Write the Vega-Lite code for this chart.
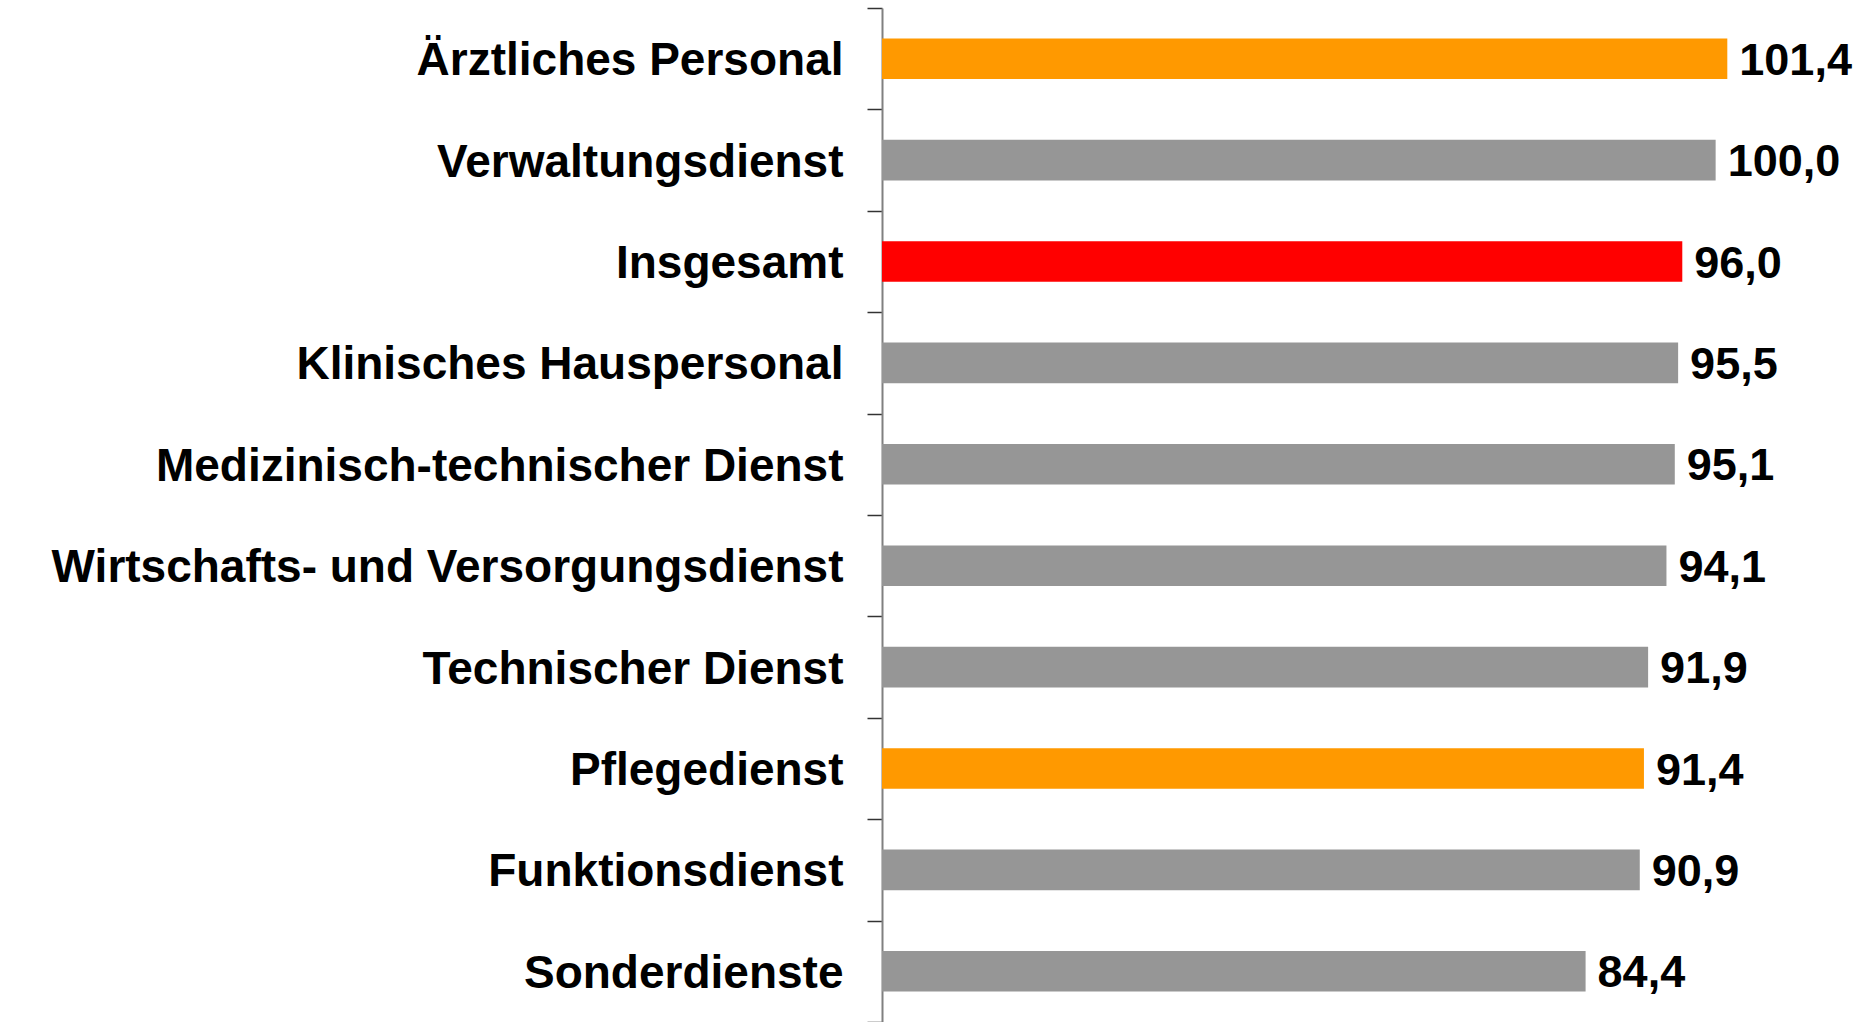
{
  "$schema": "https://vega.github.io/schema/vega-lite/v6.json",
  "width": 917,
  "height": 1014,
  "autosize": {"type": "none"},
  "padding": {"left": 882, "top": 8, "right": 63, "bottom": 0},
  "background": "white",
  "config": {
    "view": {"stroke": null},
    "locale": {"number": {"decimal": ",", "thousands": ".", "grouping": [3], "currency": ["", " €"]}}
  },
  "data": {
    "values": [
      {"category": "Ärztliches Personal", "value": 101.4, "group": "hervorgehoben"},
      {"category": "Verwaltungsdienst", "value": 100.0, "group": "sonstige"},
      {"category": "Insgesamt", "value": 96.0, "group": "insgesamt"},
      {"category": "Klinisches Hauspersonal", "value": 95.5, "group": "sonstige"},
      {"category": "Medizinisch-technischer Dienst", "value": 95.1, "group": "sonstige"},
      {"category": "Wirtschafts- und Versorgungsdienst", "value": 94.1, "group": "sonstige"},
      {"category": "Technischer Dienst", "value": 91.9, "group": "sonstige"},
      {"category": "Pflegedienst", "value": 91.4, "group": "hervorgehoben"},
      {"category": "Funktionsdienst", "value": 90.9, "group": "sonstige"},
      {"category": "Sonderdienste", "value": 84.4, "group": "sonstige"}
    ]
  },
  "encoding": {
    "y": {
      "field": "category",
      "type": "nominal",
      "sort": null,
      "scale": {"paddingInner": 0, "paddingOuter": 0},
      "axis": {
        "title": null,
        "domainColor": "#808080",
        "domainWidth": 2,
        "tickColor": "#333333",
        "tickWidth": 1.5,
        "tickSize": 15,
        "tickBand": "extent",
        "labelFont": "Liberation Sans",
        "labelFontWeight": "bold",
        "labelFontSize": 46,
        "labelColor": "#000000",
        "labelPadding": 24,
        "labelOffset": 2,
        "labelLimit": 0
      }
    },
    "x": {
      "field": "value",
      "type": "quantitative",
      "scale": {"domain": [0, 110]},
      "axis": null
    }
  },
  "layer": [
    {
      "mark": {"type": "bar", "height": {"band": 0.4}},
      "encoding": {
        "color": {
          "field": "group",
          "type": "nominal",
          "scale": {"domain": ["hervorgehoben", "insgesamt", "sonstige"], "range": ["#FF9900", "#FF0000", "#969696"]},
          "legend": null
        }
      }
    },
    {
      "mark": {"type": "text", "align": "left", "baseline": "middle", "dx": 12, "dy": 2, "font": "Liberation Sans", "fontWeight": "bold", "fontSize": 45, "color": "#000000"},
      "encoding": {
        "text": {"field": "value", "type": "quantitative", "format": ".1f"}
      }
    }
  ]
}
